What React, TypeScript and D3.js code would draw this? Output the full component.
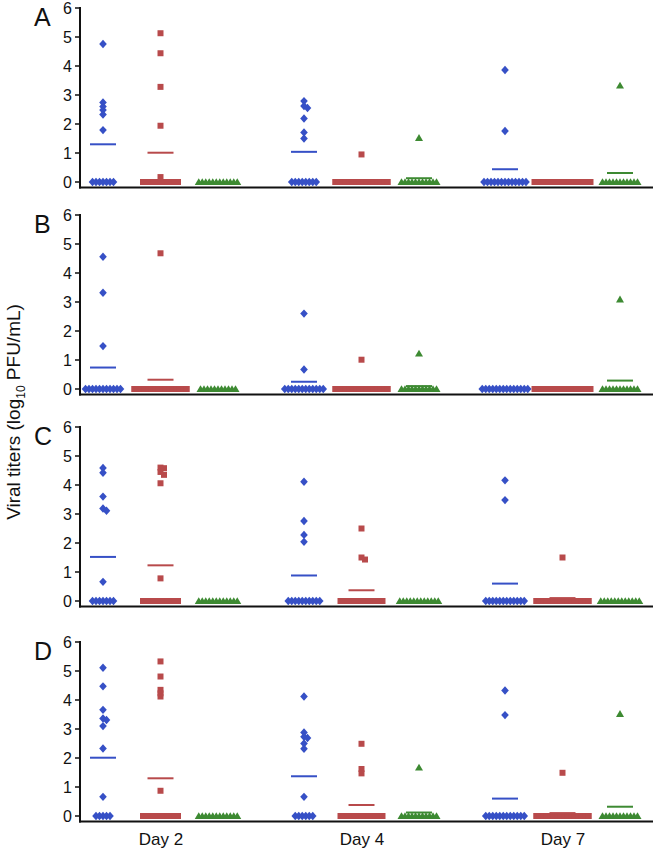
import React from "react";
import * as d3 from "d3";

const DAYS = ["Day 2", "Day 4", "Day 7"];
const SERIES = ["s1", "s2", "s3"];
const PANEL_LABELS = ["A", "B", "C", "D"];
const Y_TICKS = [0, 1, 2, 3, 4, 5, 6];
const COLORS = ["#3650c6", "#b84a4b", "#3d8a32"];

// positive titers [day][series]
const positivesA = [
  [[4.76, 2.74, 2.6, 2.48, 2.33, 1.79], [5.13, 4.44, 3.28, 1.94, 0.17], []],
  [[2.79, 2.62, 2.55, 2.19, 1.71, 1.5], [0.95], [1.52]],
  [[3.86, 1.76], [], [3.33]],
];
const positivesB = [
  [[4.56, 3.32, 1.48], [4.68], []],
  [[2.6, 0.67], [1.01], [1.22]],
  [[], [], [3.09]],
];
const positivesC = [
  [[4.59, 4.42, 3.6, 3.19, 3.11, 0.66], [4.6, 4.58, 4.45, 4.35, 4.06, 0.78], []],
  [[4.11, 2.76, 2.28, 2.04], [2.5, 1.5, 1.43], []],
  [[4.16, 3.48], [1.5], []],
];
const positivesD = [
  [[5.11, 4.47, 3.66, 3.36, 3.31, 3.1, 2.33, 0.66], [5.33, 4.81, 4.35, 4.23, 4.12, 0.87], []],
  [[4.12, 2.88, 2.73, 2.69, 2.5, 2.32, 0.66], [2.49, 1.62, 1.47], [1.67]],
  [[4.33, 3.48], [1.49], [3.52]],
];

// number of animals at 0 [day][series]
const zerosA = [[7, 11, 12], [8, 16, 11], [13, 17, 11]];
const zerosB = [[11, 16, 11], [12, 16, 11], [14, 17, 11]];
const zerosC = [[7, 11, 12], [10, 13, 12], [12, 16, 12]];
const zerosD = [[5, 11, 12], [6, 13, 11], [12, 16, 11]];

// group means [day][series]
const meansA = [[1.3, 1.01, 0], [1.04, 0.06, 0.13], [0.44, 0, 0.31]];
const meansB = [[0.74, 0.32, 0], [0.25, 0.07, 0.1], [0, 0, 0.29]];
const meansC = [[1.52, 1.23, 0], [0.88, 0.37, 0], [0.6, 0.1, 0]];
const meansD = [[2.01, 1.3, 0], [1.37, 0.38, 0.12], [0.6, 0.1, 0.32]];

const POSITIVES = [positivesA, positivesB, positivesC, positivesD];
const ZEROS = [zerosA, zerosB, zerosC, zerosD];
const MEANS = [meansA, meansB, meansC, meansD];

const PANEL_TOPS = [8, 215, 427, 642];
const PANEL_H = 174;
const AXIS_X = 80;
const AXIS_RIGHT = 653;
const FONT = "'Liberation Sans', Arial, Helvetica, sans-serif";

const SHAPES = [
  "M0,-4.2L3.8,0L0,4.2L-3.8,0Z",
  "M-3,-3h6v6h-6Z",
  "M0,-3.8L4,3L-4,3Z",
];

const xDay = d3.scalePoint<string>().domain(DAYS).range([161, 563]);
const xSeries = d3.scalePoint<string>().domain(SERIES).range([-58, 57]);

function dodge(values: number[], cx: number, y: d3.ScaleLinear<number, number>) {
  const placed: { x: number; y: number }[] = [];
  const sorted = [...values].sort((a, b) => b - a);
  for (const v of sorted) {
    const py = y(v);
    for (const k of [0, 1, -1, 2, -2, 3, -3]) {
      const px = cx + k * 3.5;
      if (!placed.some((p) => Math.abs(p.x - px) < 3.5 && Math.abs(p.y - py) < 3)) {
        placed.push({ x: px, y: py });
        break;
      }
    }
  }
  return placed;
}

function Panel({ idx }: { idx: number }) {
  const top = PANEL_TOPS[idx];
  const y = d3.scaleLinear().domain([0, 6]).range([top + PANEL_H, top]);
  const baseY = y(0) + 5.5;
  const items: React.ReactNode[] = [];
  DAYS.forEach((day, di) => {
    SERIES.forEach((s, si) => {
      const cx = (xDay(day) as number) + (xSeries(s) as number);
      const color = COLORS[si];
      const nz = ZEROS[idx][di][si];
      const step = 3.5;
      for (let i = 0; i < nz; i++) {
        const px = cx + (i - (nz - 1) / 2) * step;
        items.push(
          <path key={`z-${di}-${si}-${i}`} d={SHAPES[si]} transform={`translate(${px},${y(0)})`} fill={color} />
        );
      }
      const pts = dodge(POSITIVES[idx][di][si], cx, y);
      pts.forEach((p, i) =>
        items.push(
          <path key={`p-${di}-${si}-${i}`} d={SHAPES[si]} transform={`translate(${p.x},${p.y})`} fill={color} />
        )
      );
      const m = MEANS[idx][di][si];
      if (m > 0) {
        items.push(
          <line key={`m-${di}-${si}`} x1={cx - 13} x2={cx + 13} y1={y(m)} y2={y(m)} stroke={color} strokeWidth={2} />
        );
      }
    });
  });
  return (
    <g>
      <text x={34} y={top + 18} fontSize={25} fontFamily={FONT} fill="#111">
        {PANEL_LABELS[idx]}
      </text>
      {Y_TICKS.map((t) => (
        <g key={t}>
          <line x1={AXIS_X - 5} x2={AXIS_X} y1={y(t)} y2={y(t)} stroke="#111" strokeWidth={1.5} />
          <text x={AXIS_X - 8} y={y(t)} dy="0.36em" textAnchor="end" fontSize={16} fontFamily={FONT} fill="#111">
            {t}
          </text>
        </g>
      ))}
      <line x1={AXIS_X} x2={AXIS_X} y1={top - 1} y2={baseY + 1} stroke="#111" strokeWidth={2} />
      <line x1={AXIS_X - 1} x2={AXIS_RIGHT} y1={baseY} y2={baseY} stroke="#111" strokeWidth={2} />
      {items}
    </g>
  );
}

export default function App() {
  return (
    <svg
      width={656}
      height={853}
      style={{ position: "absolute", left: 0, top: 0, background: "#fff" }}
    >
      <rect width={656} height={853} fill="#fff" />
      {PANEL_LABELS.map((_, i) => (
        <Panel key={i} idx={i} />
      ))}
      {DAYS.map((d) => (
        <text key={d} x={xDay(d)} y={845} textAnchor="middle" fontSize={17} fontFamily={FONT} fill="#111">
          {d}
        </text>
      ))}
      <text
        transform="translate(20,412) rotate(-90)"
        textAnchor="middle"
        fontSize={19}
        fontFamily={FONT}
        fill="#111"
      >
        Viral titers (log
        <tspan fontSize={12} dy={5}>10</tspan>
        <tspan dy={-5}> PFU/mL)</tspan>
      </text>
    </svg>
  );
}
